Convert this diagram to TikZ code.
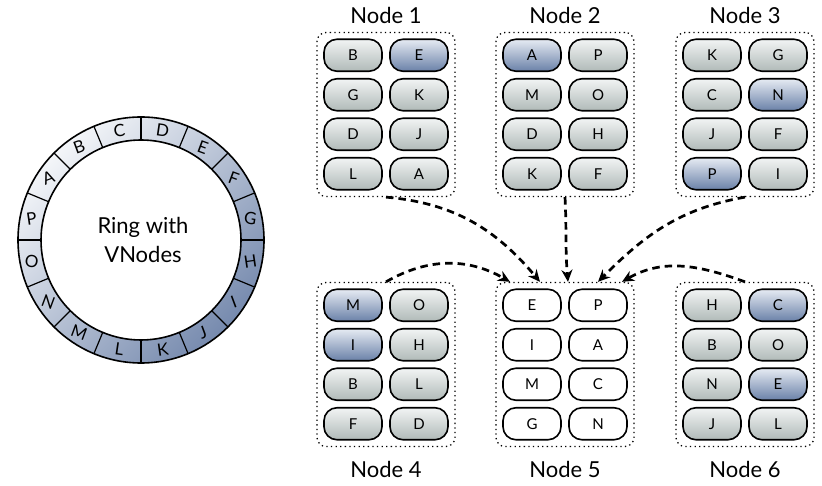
\documentclass[tikz,border=0pt]{standalone}
\usepackage{fontspec}
\setmainfont{Lato}
\usetikzlibrary{arrows.meta,positioning}

\definecolor{ringlight}{RGB}{244,246,249}
\definecolor{ringdark}{RGB}{118,138,174}
\definecolor{graytop}{RGB}{242,244,244}
\definecolor{graybot}{RGB}{176,186,184}
\definecolor{bluetop}{RGB}{230,235,243}
\definecolor{bluebot}{RGB}{106,129,168}

\tikzset{
	tilebase/.style={draw=black, line width=1.6pt, rounded corners=13pt, minimum width=58pt, minimum height=32pt, inner sep=0pt, font=\fontsize{15}{17}\selectfont},
	vgray/.style={tilebase, top color=graytop, bottom color=graybot},
	vblue/.style={tilebase, top color=bluetop, bottom color=bluebot},
	vfree/.style={tilebase, fill=white},
	hostbox/.style={draw=black, line width=1.3pt, dash pattern=on 1.3pt off 3.3pt, rounded corners=9pt, minimum width=138pt, minimum height=164pt},
	hostlabel/.style={font=\fontsize{22}{24}\selectfont},
	moveline/.style={line width=2.7pt, dash pattern=on 7.5pt off 5pt, -{Stealth[length=12pt,width=11pt]}}
}

\begin{document}
\begin{tikzpicture}[x=1pt, y=1pt]
	\useasboundingbox (0,0) rectangle (822,486);

	% the ring of virtual nodes
	\coordinate (ring) at (141,246);
	\shade[even odd rule, top color=ringlight, bottom color=ringdark, shading angle=45] (ring) circle (123) (ring) circle (100);
	\draw[line width=1.6pt] (ring) circle (123) (ring) circle (100);
	\foreach \a in {0,22.5,...,337.5}
		\draw[line width=1.2pt] ([shift={(\a:100)}]ring) -- ([shift={(\a:123)}]ring);
	\foreach \l [count=\i from 0] in {A,...,P} {
		\pgfmathsetmacro\ang{146.25-22.5*\i}
		\pgfmathsetmacro\tilt{-22*sin(2*\ang)}
		\node[font=\fontsize{17}{19}\selectfont, rotate=\tilt] (seg-\l) at ([shift={(\ang:111.5)}]ring) {\l};
	}
	\node[align=center, font=\fontsize{22}{29}\selectfont] (ringlabel) at (143,246) {Ring with\\VNodes};

	% physical nodes
	\node[hostbox] (n1) at (386,371.5) {};
	\node[hostlabel, above=5pt of n1] (n1-label) {Node 1};
	\foreach \t/\s [count=\i from 0] in {B/vgray,E/vblue,G/vgray,K/vgray,D/vgray,J/vgray,L/vgray,A/vgray} {
		\pgfmathsetmacro\dx{mod(\i,2)*66-33}
		\pgfmathsetmacro\dy{59.25-int(\i/2)*39.5}
		\node[\s, xshift=\dx pt, yshift=\dy pt] (n1-\t) at (n1.center) {\t};
	}

	\node[hostbox] (n2) at (565,371.5) {};
	\node[hostlabel, above=5pt of n2] (n2-label) {Node 2};
	\foreach \t/\s [count=\i from 0] in {A/vblue,P/vgray,M/vgray,O/vgray,D/vgray,H/vgray,K/vgray,F/vgray} {
		\pgfmathsetmacro\dx{mod(\i,2)*66-33}
		\pgfmathsetmacro\dy{59.25-int(\i/2)*39.5}
		\node[\s, xshift=\dx pt, yshift=\dy pt] (n2-\t) at (n2.center) {\t};
	}

	\node[hostbox] (n3) at (745,371.5) {};
	\node[hostlabel, above=5pt of n3] (n3-label) {Node 3};
	\foreach \t/\s [count=\i from 0] in {K/vgray,G/vgray,C/vgray,N/vblue,J/vgray,F/vgray,P/vblue,I/vgray} {
		\pgfmathsetmacro\dx{mod(\i,2)*66-33}
		\pgfmathsetmacro\dy{59.25-int(\i/2)*39.5}
		\node[\s, xshift=\dx pt, yshift=\dy pt] (n3-\t) at (n3.center) {\t};
	}

	\node[hostbox] (n4) at (386,121.5) {};
	\node[hostlabel, below=11pt of n4] (n4-label) {Node 4};
	\foreach \t/\s [count=\i from 0] in {M/vblue,O/vgray,I/vblue,H/vgray,B/vgray,L/vgray,F/vgray,D/vgray} {
		\pgfmathsetmacro\dx{mod(\i,2)*66-33}
		\pgfmathsetmacro\dy{59.25-int(\i/2)*39.5}
		\node[\s, xshift=\dx pt, yshift=\dy pt] (n4-\t) at (n4.center) {\t};
	}

	\node[hostbox] (n5) at (565,121.5) {};
	\node[hostlabel, below=11pt of n5] (n5-label) {Node 5};
	\foreach \t [count=\i from 0] in {E,P,I,A,M,C,G,N} {
		\pgfmathsetmacro\dx{mod(\i,2)*66-33}
		\pgfmathsetmacro\dy{59.25-int(\i/2)*39.5}
		\node[vfree, xshift=\dx pt, yshift=\dy pt] (n5-\t) at (n5.center) {\t};
	}

	\node[hostbox] (n6) at (745,121.5) {};
	\node[hostlabel, below=11pt of n6] (n6-label) {Node 6};
	\foreach \t/\s [count=\i from 0] in {H/vgray,C/vblue,B/vgray,O/vgray,N/vgray,E/vblue,J/vgray,L/vgray} {
		\pgfmathsetmacro\dx{mod(\i,2)*66-33}
		\pgfmathsetmacro\dy{59.25-int(\i/2)*39.5}
		\node[\s, xshift=\dx pt, yshift=\dy pt] (n6-\t) at (n6.center) {\t};
	}

	% moves into the new node
	\coordinate[xshift=-55pt] (e4) at (n5.north);
	\coordinate[xshift=-25pt] (e1) at (n5.north);
	\coordinate[xshift=3pt] (e2) at (n5.north);
	\coordinate[xshift=33pt] (e3) at (n5.north);
	\coordinate[xshift=57pt] (e6) at (n5.north);
	\draw[moveline] (n1.south) to[out=-5, in=130] (e1);
	\draw[moveline] (n2.south) to[out=-87, in=95] (e2);
	\draw[moveline] (n3.south) to[out=190, in=45] (e3);
	\draw[moveline] (n4.north) to[out=30, in=150] (e4);
	\draw[moveline] (n6.north) to[out=160, in=30] (e6);
\end{tikzpicture}
\end{document}
